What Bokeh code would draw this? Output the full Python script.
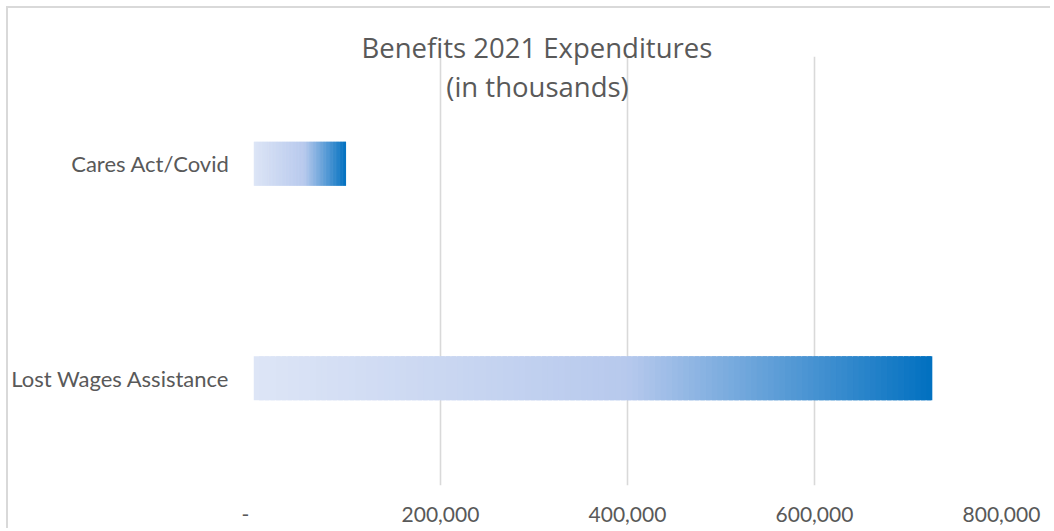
from bokeh.plotting import figure
from bokeh.models import FactorRange, Range1d, Label, FixedTicker, ColumnDataSource, Title
from bokeh.embed import file_html
from bokeh.resources import INLINE

# ---- data ----
categories = ["Cares Act/Covid", "Lost Wages Assistance"]
values = [99000, 726000]
tick_values = [0, 200000, 400000, 600000, 800000]
tick_labels = ["-   ", "200,000", "400,000", "600,000", "800,000"]
title_lines = ["Benefits 2021 Expenditures", "(in thousands)"]

# gradient stops (fraction, rgb)
grad_stops = [(0.0, (221, 229, 246)), (0.55, (183, 201, 237)), (1.0, (0, 112, 192))]

def grad_color(t):
    for (t0, c0), (t1, c1) in zip(grad_stops[:-1], grad_stops[1:]):
        if t <= t1:
            f = (t - t0) / (t1 - t0) if t1 > t0 else 0
            c = [round(a + (b - a) * f) for a, b in zip(c0, c1)]
            return "#%02x%02x%02x" % tuple(c)
    return "#%02x%02x%02x" % grad_stops[-1][1]

N = 120
ys, lefts, rights, cols = [], [], [], []
for cat, v in zip(categories, values):
    for i in range(N):
        ys.append(cat)
        lefts.append(v * i / N)
        rights.append(min(v, v * (i + 1.8) / N))
        cols.append(grad_color((i + 0.5) / N))
src = ColumnDataSource(dict(y=ys, left=lefts, right=rights, color=cols))

p = figure(
    width=1044, height=522,
    y_range=FactorRange(factors=categories[::-1], range_padding=0),
    x_range=Range1d(0, 800000),
    output_backend="svg", toolbar_location=None,
    min_border_left=242, min_border_right=51, min_border_top=48, min_border_bottom=45,
)
p.styles = {"border-top": "2px solid #d9d9d9", "border-left": "2px solid #d9d9d9",
            "margin-left": "6px", "margin-top": "6px"}
p.outline_line_color = None
p.background_fill_color = "white"
p.border_fill_color = "white"

p.hbar(y="y", left="left", right="right", height=0.206, fill_color="color",
       line_color=None, source=src)

# grid
p.ygrid.grid_line_color = None
p.xgrid.grid_line_color = "#d9d9d9"
p.xgrid.grid_line_width = 1.6
p.xaxis.ticker = FixedTicker(ticks=tick_values)
p.xaxis.major_label_overrides = {t: l for t, l in zip(tick_values, tick_labels)}

for ax in (p.xaxis[0], p.yaxis[0]):
    ax.axis_line_color = None
    ax.major_tick_line_color = None
    ax.minor_tick_line_color = None
    ax.major_tick_out = 0
    ax.major_tick_in = 0
    ax.major_label_text_color = "#595959"
    ax.major_label_text_font = "Lato"
p.xaxis.major_label_text_font_size = "21px"
p.yaxis.major_label_text_font_size = "22px"
p.xaxis.major_label_standoff = 15
p.yaxis.major_label_standoff = 24

t1 = Title(text=title_lines[0], align="left", offset=108, standoff=-18,
           vertical_align="bottom", text_font="Open Sans", text_font_size="27.5px",
           text_color="#595959", text_font_style="normal")
p.add_layout(t1, "above")
p.add_layout(Label(x=284, y=399, x_units="screen", y_units="screen",
                   text=title_lines[1], text_align="center", text_baseline="middle",
                   text_font="Open Sans", text_font_size="27.5px", text_color="#595959"))

open("out.html", "w").write(file_html(p, INLINE))
